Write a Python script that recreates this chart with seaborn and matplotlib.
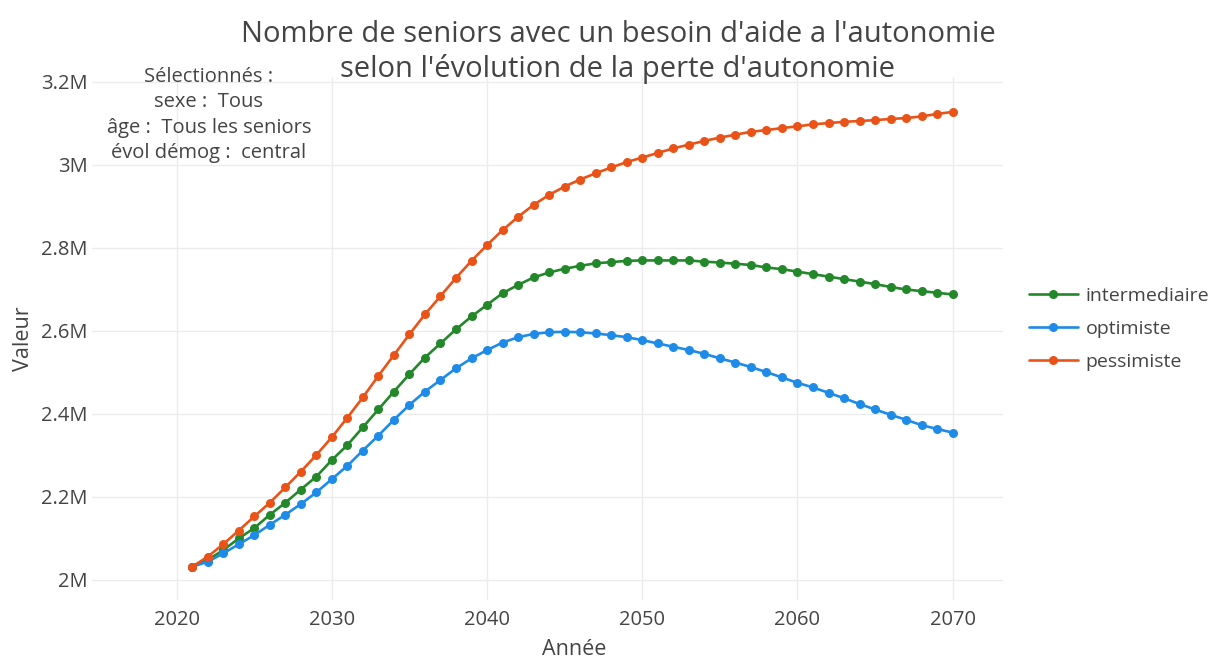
import matplotlib
matplotlib.use("Agg")
import matplotlib.pyplot as plt
import seaborn as sns
import pandas as pd

years = list(range(2021, 2071))

intermediaire = [
    2.032, 2.048, 2.072, 2.100, 2.125, 2.157, 2.186, 2.218, 2.249, 2.289,
    2.325, 2.368, 2.411, 2.454, 2.496, 2.536, 2.570, 2.604, 2.635, 2.663,
    2.691, 2.711, 2.729, 2.741, 2.750, 2.757, 2.763, 2.766, 2.769, 2.770,
    2.770, 2.770, 2.770, 2.767, 2.765, 2.762, 2.759, 2.753, 2.749, 2.743,
    2.737, 2.731, 2.725, 2.719, 2.713, 2.706, 2.700, 2.696, 2.692, 2.688,
]
optimiste = [
    2.032, 2.044, 2.064, 2.086, 2.108, 2.133, 2.157, 2.183, 2.211, 2.243,
    2.275, 2.312, 2.348, 2.386, 2.422, 2.454, 2.482, 2.510, 2.534, 2.554,
    2.572, 2.585, 2.593, 2.597, 2.598, 2.597, 2.594, 2.590, 2.585, 2.578,
    2.570, 2.562, 2.554, 2.545, 2.534, 2.524, 2.513, 2.501, 2.488, 2.475,
    2.464, 2.451, 2.438, 2.424, 2.411, 2.398, 2.386, 2.373, 2.364, 2.355,
]
pessimiste = [
    2.032, 2.056, 2.086, 2.119, 2.153, 2.186, 2.223, 2.261, 2.301, 2.344,
    2.391, 2.440, 2.492, 2.542, 2.592, 2.640, 2.684, 2.728, 2.769, 2.807,
    2.843, 2.875, 2.904, 2.928, 2.948, 2.965, 2.980, 2.994, 3.007, 3.018,
    3.029, 3.040, 3.049, 3.058, 3.066, 3.073, 3.080, 3.084, 3.089, 3.093,
    3.098, 3.101, 3.104, 3.106, 3.108, 3.111, 3.113, 3.117, 3.123, 3.128,
]

series_names = ["intermediaire", "optimiste", "pessimiste"]
series_colors = ["#23882a", "#1f8be8", "#ea5318"]

x_ticks = [2020, 2030, 2040, 2050, 2060, 2070]
y_ticks = [2.0e6, 2.2e6, 2.4e6, 2.6e6, 2.8e6, 3.0e6, 3.2e6]
y_tick_labels = ["2M", "2.2M", "2.4M", "2.6M", "2.8M", "3M", "3.2M"]

title_text = "Nombre de seniors avec un besoin d'aide a l'autonomie\nselon l'évolution de la perte d'autonomie"
note_lines = ["Sélectionnés :", "sexe :  Tous", "âge :  Tous les seniors", "évol démog :  central"]

rows = []
for name, vals in zip(series_names, [intermediaire, optimiste, pessimiste]):
    for y, v in zip(years, vals):
        rows.append({"Année": y, "Valeur": v * 1e6, "scenario": name})
df = pd.DataFrame(rows)

sns.set_theme(style="white")
plt.rcParams["font.family"] = ["Open Sans", "DejaVu Sans"]

W, H = 1219, 661
fig = plt.figure(figsize=(W / 100, H / 100), dpi=100)
left_px, right_px, top_px, bottom_px = 92, 1003, 77, 600
ax = fig.add_axes([left_px / W, (H - bottom_px) / H, (right_px - left_px) / W, (bottom_px - top_px) / H])

sns.lineplot(data=df, x="Année", y="Valeur", hue="scenario", hue_order=series_names,
             palette=series_colors, marker="o", markersize=6.5, markeredgewidth=0,
             linewidth=1.9, ax=ax)

ax.set_xlim(2014.55, 2073.24)
ax.set_ylim(1.9518e6, 3.2120e6)
ax.set_xticks(x_ticks)
ax.set_yticks(y_ticks)
ax.set_yticklabels(y_tick_labels)
ax.grid(True, color="#ececec", linewidth=1)
for s in ax.spines.values():
    s.set_visible(False)
ax.tick_params(axis="both", length=0, labelsize=14.5, labelcolor="#444444")
ax.tick_params(axis="y", pad=3)
ax.tick_params(axis="x", pad=7)
ax.set_xlabel("")
ax.set_ylabel("Valeur", fontsize=15.5, color="#444444")
ax.yaxis.set_label_coords(-58 / (right_px - left_px), 0.5)

fig.text(574 / W, 1 / H, "Année", ha="center", va="bottom", fontsize=15.5, color="#444444")

leg = ax.legend(loc="center left", bbox_to_anchor=(1029 / W, 1 - 329 / H),
                bbox_transform=fig.transFigure, frameon=False,
                fontsize=14, handlelength=2.5, handletextpad=0.4,
                labelspacing=0.78, borderaxespad=0, borderpad=0)
for t in leg.get_texts():
    t.set_color("#444444")

fig.text(618 / W, 1 - 52 / H, title_text, ha="center", va="center", fontsize=21,
         color="#444444", linespacing=1.24)
fig.text(209 / W, 1 - 115 / H, "\n".join(note_lines), ha="center", va="center",
         fontsize=14.5, color="#444444", linespacing=1.36)

fig.savefig("out.png", dpi=100)
